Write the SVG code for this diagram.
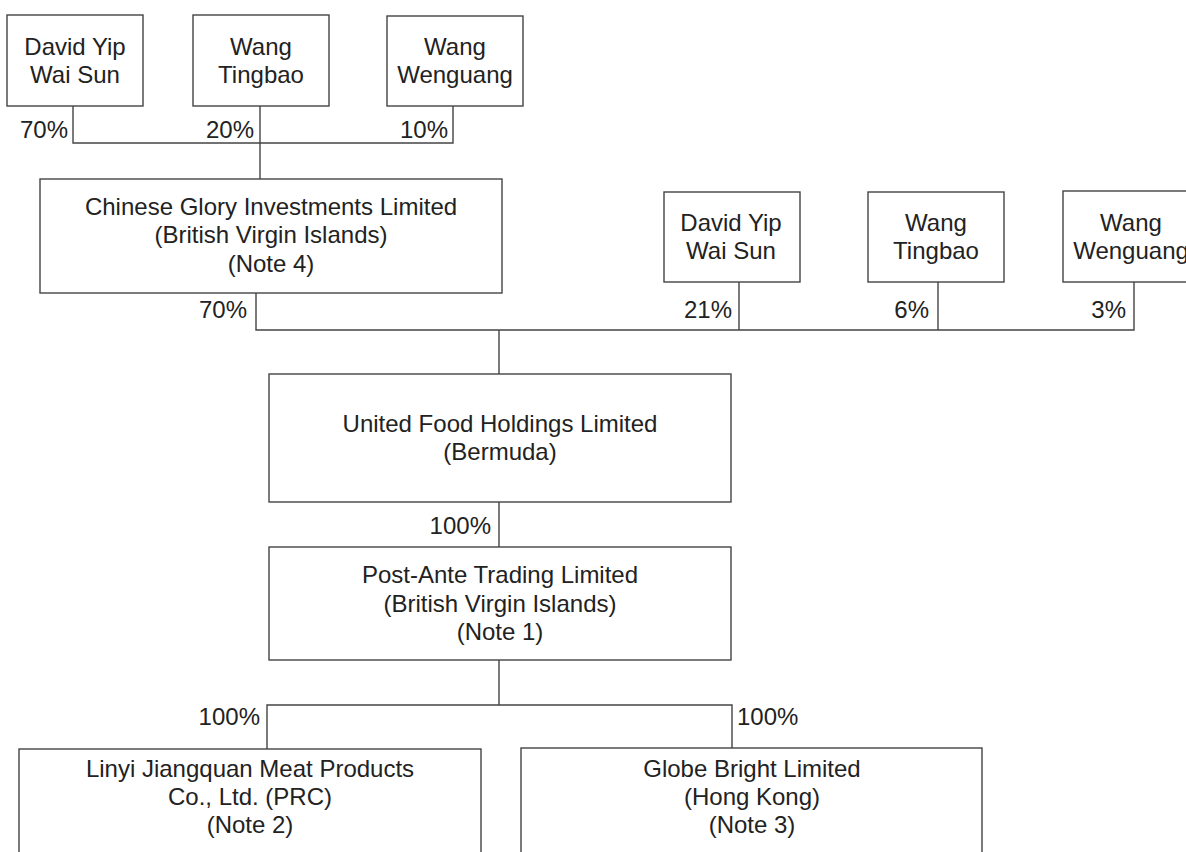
<svg xmlns="http://www.w3.org/2000/svg" width="1186" height="852" viewBox="0 0 1186 852">
<style>
.box{fill:#fff;stroke:#444;stroke-width:1.4}
.t{font-family:"Liberation Sans",Arial,sans-serif;font-size:24px;fill:#222;text-anchor:middle}
.p{font-family:"Liberation Sans",Arial,sans-serif;font-size:24px;fill:#222;text-anchor:end}
.pl{font-family:"Liberation Sans",Arial,sans-serif;font-size:24px;fill:#222;text-anchor:start}
.c{fill:none;stroke:#444;stroke-width:1.4}
</style>
<rect width="1186" height="852" fill="#fff"/>
<g id="connectors">
<polyline class="c" points="73,106 73,143 453,143 453,106"/>
<line class="c" x1="260" y1="106" x2="260" y2="179"/>
<polyline class="c" points="256,293 256,330 1134,330 1134,282"/>
<line class="c" x1="739" y1="282" x2="739" y2="330"/>
<line class="c" x1="938" y1="282" x2="938" y2="330"/>
<line class="c" x1="499" y1="330" x2="499" y2="374"/>
<line class="c" x1="499" y1="502" x2="499" y2="547"/>
<line class="c" x1="499" y1="660" x2="499" y2="705"/>
<polyline class="c" points="267,749 267,705 732,705 732,748"/>
<text class="p" x="68" y="138">70%</text>
<text class="p" x="254" y="138">20%</text>
<text class="p" x="448" y="138">10%</text>
<text class="p" x="247" y="318">70%</text>
<text class="p" x="732" y="318">21%</text>
<text class="p" x="929" y="318">6%</text>
<text class="p" x="1126" y="318">3%</text>
<text class="p" x="491" y="534">100%</text>
<text class="p" x="260" y="725">100%</text>
<text class="pl" x="737" y="725">100%</text>
</g>
<g id="david1"><rect class="box" x="7" y="15" width="136" height="91"/><text class="t" x="75" y="55">David Yip</text><text class="t" x="75" y="83">Wai Sun</text></g>
<g id="wangt1"><rect class="box" x="193" y="15" width="136" height="91"/><text class="t" x="261" y="55">Wang</text><text class="t" x="261" y="83">Tingbao</text></g>
<g id="wangw1"><rect class="box" x="387" y="16" width="136" height="90"/><text class="t" x="455" y="55">Wang</text><text class="t" x="455" y="83">Wenguang</text></g>
<g id="chinese"><rect class="box" x="40" y="179" width="462" height="114"/><text class="t" x="271" y="215">Chinese Glory Investments Limited</text><text class="t" x="271" y="243">(British Virgin Islands)</text><text class="t" x="271" y="272">(Note 4)</text></g>
<g id="david2"><rect class="box" x="664" y="192" width="136" height="90"/><text class="t" x="731" y="231">David Yip</text><text class="t" x="731" y="259">Wai Sun</text></g>
<g id="wangt2"><rect class="box" x="868" y="192" width="136" height="90"/><text class="t" x="936" y="231">Wang</text><text class="t" x="936" y="259">Tingbao</text></g>
<g id="wangw2"><rect class="box" x="1063" y="191" width="136" height="91"/><text class="t" x="1131" y="231">Wang</text><text class="t" x="1131" y="259">Wenguang</text></g>
<g id="united"><rect class="box" x="269" y="374" width="462" height="128"/><text class="t" x="500" y="432">United Food Holdings Limited</text><text class="t" x="500" y="460">(Bermuda)</text></g>
<g id="postante"><rect class="box" x="269" y="547" width="462" height="113"/><text class="t" x="500" y="583">Post-Ante Trading Limited</text><text class="t" x="500" y="612">(British Virgin Islands)</text><text class="t" x="500" y="640">(Note 1)</text></g>
<g id="linyi"><rect class="box" x="19" y="749" width="462" height="120"/><text class="t" x="250" y="777">Linyi Jiangquan Meat Products</text><text class="t" x="250" y="805">Co., Ltd. (PRC)</text><text class="t" x="250" y="833">(Note 2)</text></g>
<g id="globe"><rect class="box" x="521" y="748" width="461" height="120"/><text class="t" x="752" y="777">Globe Bright Limited</text><text class="t" x="752" y="805">(Hong Kong)</text><text class="t" x="752" y="833">(Note 3)</text></g>
</svg>
